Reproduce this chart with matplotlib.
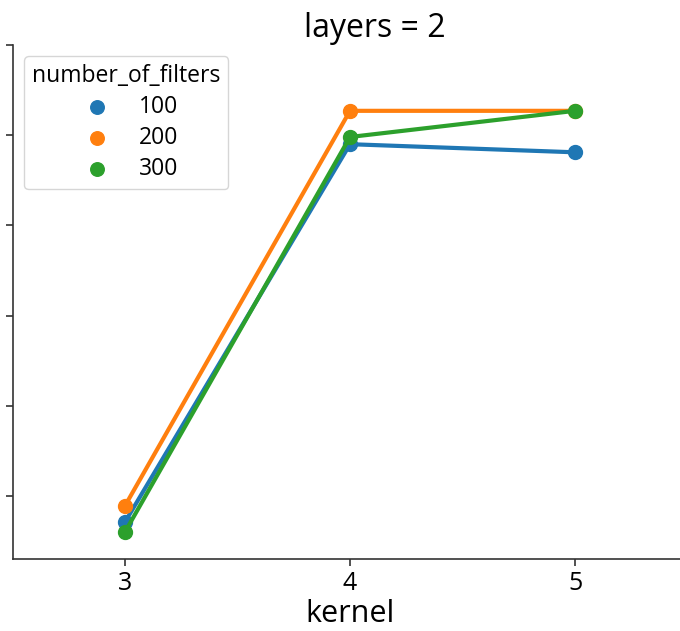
import matplotlib
matplotlib.use("Agg")
import matplotlib.pyplot as plt

plt.rcParams['font.family'] = ['Open Sans', 'DejaVu Sans']

kernels = ["3", "4", "5"]
filters = ["100", "200", "300"]
scores = {
    "100": [0.471, 0.890, 0.881],
    "200": [0.489, 0.927, 0.927],
    "300": [0.460, 0.898, 0.927],
}
colors = ["#1f77b4", "#ff7f0e", "#2ca02c"]
yticks = [0.5, 0.6, 0.7, 0.8, 0.9, 1.0]

W, H = 680, 631
fig = plt.figure(figsize=(W / 100, H / 100), dpi=100)
ax = fig.add_axes([12.5 / W, (H - 559) / H, 675 / W, 514 / H])

xpos = list(range(len(kernels)))
for f, c in zip(filters, colors):
    ax.plot(xpos, scores[f], color=c, lw=3, marker="o", ms=10, zorder=3)
    ax.scatter([], [], color=c, s=95, label=f)

ax.set_xlim(-0.5, 2.5)
ax.set_ylim(0.43, 1.0)
ax.set_xticks(xpos)
ax.set_xticklabels(kernels, fontsize=18)
ax.set_yticks(yticks)
ax.set_yticklabels([])
ax.set_xlabel("kernel", fontsize=22, labelpad=2)
ax.spines["top"].set_visible(False)
ax.spines["right"].set_visible(False)
for s in ("left", "bottom"):
    ax.spines[s].set_linewidth(1.2)
    ax.spines[s].set_color("#333333")
ax.tick_params(length=5, width=1.2, color="#333333")
ax.set_title("layers = 2", fontsize=23, x=0.537, pad=4)

leg = ax.legend(title="number_of_filters", loc="upper left", fontsize=16.5,
                title_fontsize=16.5, frameon=True, borderaxespad=0.5,
                labelspacing=0.3, borderpad=0.35)

fig.savefig("out.png", dpi=100)
